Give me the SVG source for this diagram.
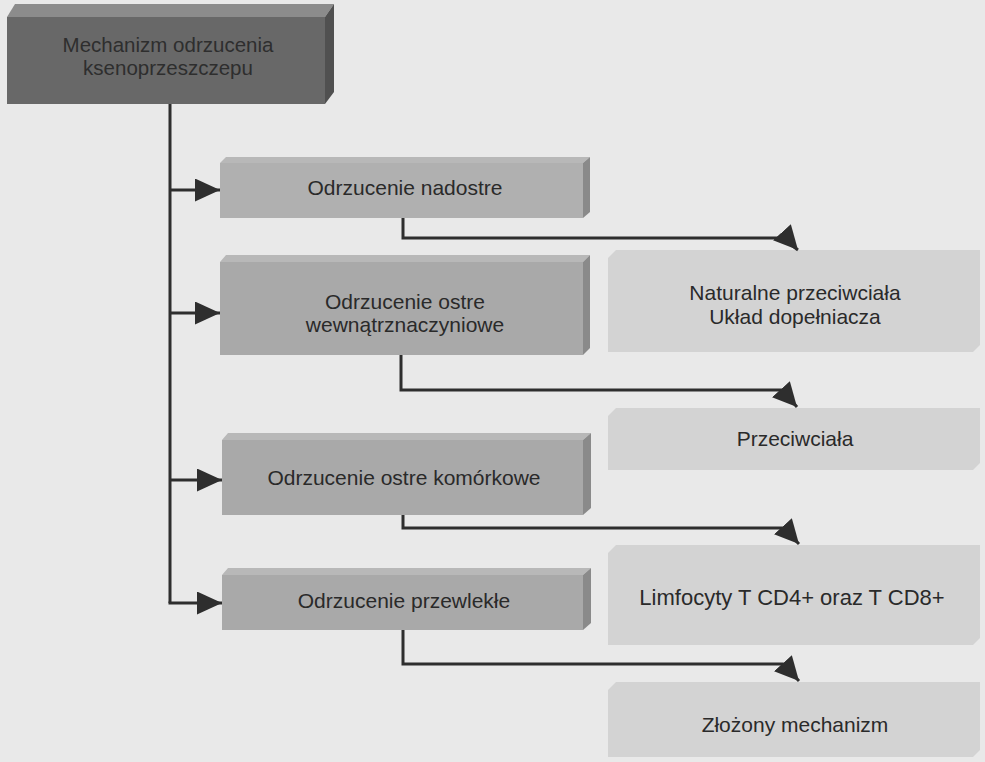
<svg xmlns="http://www.w3.org/2000/svg" width="985" height="762" viewBox="0 0 985 762">
  <style>
    .t { font-family: "Liberation Sans", Arial, sans-serif; font-size: 21px; fill: #2a2a2a; text-anchor: middle; }
    .tt { font-family: "Liberation Sans", Arial, sans-serif; font-size: 20.5px; fill: #2e2e2e; text-anchor: middle; }
    .lf { fill: #a9a9a9; }
    .lt { fill: #b8b8b8; }
    .lr { fill: #8a8a8a; }
    .rb { fill: #d3d3d3; }
    .c { fill: none; stroke: #2e2e2e; stroke-width: 3; stroke-linejoin: miter; }
  </style>
  <defs>
    <marker id="ah" markerUnits="userSpaceOnUse" markerWidth="25" markerHeight="23" viewBox="0 0 25 23" refX="25" refY="11.5" orient="auto">
      <path d="M0,0 L25,11.5 L0,23 z" fill="#2e2e2e"/>
    </marker>
    <marker id="ad" markerUnits="userSpaceOnUse" markerWidth="24" markerHeight="24" viewBox="0 0 24 24" refX="24" refY="12" orient="48">
      <path d="M0,0 L24,12 L0,24 z" fill="#2e2e2e"/>
    </marker>
  </defs>
  <rect width="985" height="762" fill="#e9e9e9"/>

  <g id="root">
    <polygon points="7,17 15,4 334,4 325,17" fill="#8c8c8c"/>
    <polygon points="325,17 334,4 334,92 325,104" fill="#505050"/>
    <rect x="7" y="17" width="318" height="87" fill="#686868"/>
    <text class="tt" x="168" y="52">Mechanizm odrzucenia</text>
    <text class="tt" x="168" y="75">ksenoprzeszczepu</text>
  </g>

  <g id="n1">
    <polygon class="lt" points="220,163 226,157 590,157 583,163"/>
    <polygon class="lr" points="583,163 590,157 590,212 583,218"/>
    <rect x="220" y="163" width="363" height="55" fill="#b0b0b0"/>
    <text class="t" x="405" y="195">Odrzucenie nadostre</text>
  </g>

  <g id="n2">
    <polygon class="lt" points="220,262 226,255 590,255 583,262"/>
    <polygon class="lr" points="583,262 590,255 590,348 583,355"/>
    <rect class="lf" x="220" y="262" width="363" height="93"/>
    <text class="t" x="405" y="309">Odrzucenie ostre</text>
    <text class="t" x="405" y="332">wewnątrznaczyniowe</text>
  </g>

  <g id="n3">
    <polygon class="lt" points="222,440 228,433 591,433 583,440"/>
    <polygon class="lr" points="583,440 591,433 591,508 583,515"/>
    <rect class="lf" x="222" y="440" width="361" height="75"/>
    <text class="t" x="404" y="485">Odrzucenie ostre komórkowe</text>
  </g>

  <g id="n4">
    <polygon class="lt" points="222,575 228,568 591,568 583,575"/>
    <polygon class="lr" points="583,575 591,568 591,623 583,630"/>
    <rect class="lf" x="222" y="575" width="361" height="55"/>
    <text class="t" x="404" y="608">Odrzucenie przewlekłe</text>
  </g>

  <g id="r1">
    <polygon class="rb" points="616,250 980,250 980,345 973,352 608,352 608,258"/>
    <text class="t" x="795" y="300">Naturalne przeciwciała</text>
    <text class="t" x="795" y="324">Układ dopełniacza</text>
  </g>

  <g id="r2">
    <polygon class="rb" points="616,408 980,408 980,463 973,470 608,470 608,416"/>
    <text class="t" x="795" y="446">Przeciwciała</text>
  </g>

  <g id="r3">
    <polygon class="rb" points="616,545 980,545 980,638 973,645 608,645 608,553"/>
    <text class="t" x="792" y="605" style="font-size:22px">Limfocyty T CD4+ oraz T CD8+</text>
  </g>

  <g id="r4">
    <polygon class="rb" points="616,682 980,682 980,750 973,757 608,757 608,690"/>
    <text class="t" x="795" y="732">Złożony mechanizm</text>
  </g>

  <g id="connectors">
    <path class="c" d="M170,104 V603"/>
    <path class="c" d="M170,190 H220" marker-end="url(#ah)"/>
    <path class="c" d="M170,313 H220" marker-end="url(#ah)"/>
    <path class="c" d="M170,480 H222" marker-end="url(#ah)"/>
    <path class="c" d="M168.5,603 H222" marker-end="url(#ah)"/>
    <path class="c" d="M403,218 V238 H782 L798,250" marker-end="url(#ad)"/>
    <path class="c" d="M401,355 V390 H782 L797,407" marker-end="url(#ad)"/>
    <path class="c" d="M403,515 V528 H783 L799,544" marker-end="url(#ad)"/>
    <path class="c" d="M403,630 V664 H783 L799,681" marker-end="url(#ad)"/>
  </g>
</svg>
